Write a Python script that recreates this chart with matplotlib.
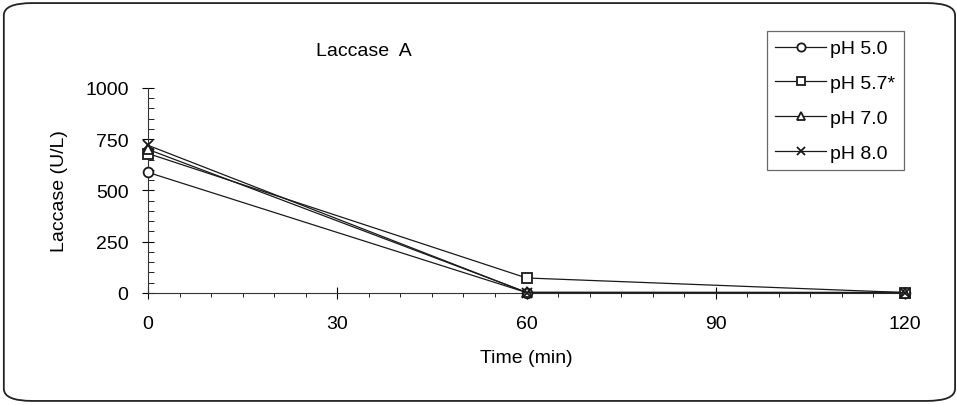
import matplotlib.pyplot as plt
from matplotlib.patches import FancyBboxPatch
from matplotlib.ticker import MultipleLocator

plt.rcParams['font.family'] = ['Liberation Sans', 'DejaVu Sans']

time = [0, 60, 120]
ph50 = [588, 2, 2]
ph57 = [680, 73, 2]
ph70 = [700, 3, 2]
ph80 = [720, 2, 2]
labels = ['pH 5.0', 'pH 5.7*', 'pH 7.0', 'pH 8.0']

fig = plt.figure(figsize=(9.57, 4.06), dpi=100)
ax = fig.add_axes([0.1547, 0.276, 0.791, 0.505])

series = [ph50, ph57, ph70, ph80]
markers = ['o', 's', '^', 'x']
for vals, m, lab in zip(series, markers, labels):
    ax.plot(time, vals, color='#1a1a1a', lw=0.9, marker=m, ms=7,
            mfc='white' if m != 'x' else '#1a1a1a', mec='#1a1a1a', mew=1.3,
            label=lab, clip_on=False, zorder=3)

ax.set_xlim(0, 120)
ax.set_ylim(0, 1000)
ax.set_xticks([0, 30, 60, 90, 120])
ax.set_yticks([0, 250, 500, 750, 1000])
ax.xaxis.set_minor_locator(MultipleLocator(5))
ax.yaxis.set_minor_locator(MultipleLocator(50))
ax.tick_params(which='major', direction='inout', length=8, width=0.8, labelsize=14)
ax.tick_params(which='minor', direction='in', length=4, width=0.6)
ax.tick_params(axis='x', which='minor', direction='out', length=3)
ax.tick_params(axis='x', pad=12)
ax.tick_params(axis='y', pad=10)
ax.spines['top'].set_visible(False)
ax.spines['right'].set_visible(False)
ax.spines['left'].set_color('#333333')
ax.spines['bottom'].set_color('#333333')

ax.set_xlabel('Time (min)', fontsize=14, labelpad=12)
ax.set_ylabel('Laccase (U/L)', fontsize=14, labelpad=12)
fig.text(0.38, 0.872, 'Laccase  A', fontsize=14, ha='center', va='center')

leg = fig.legend(loc='upper left', bbox_to_anchor=(0.801, 0.921), fontsize=14,
                 frameon=True, fancybox=False, edgecolor='#444444', handlelength=2.6,
                 handletextpad=0.2, labelspacing=0.88, borderpad=0.45, borderaxespad=0,
                 markerscale=0.85)
leg.get_frame().set_linewidth(0.9)

frame = FancyBboxPatch((0.004, 0.01), 0.994, 0.98, boxstyle='round,pad=0,rounding_size=0.03',
                       transform=fig.transFigure, fill=False, ec='#222222', lw=1.3)
fig.patches.append(frame)

fig.savefig('out.png', dpi=100)
